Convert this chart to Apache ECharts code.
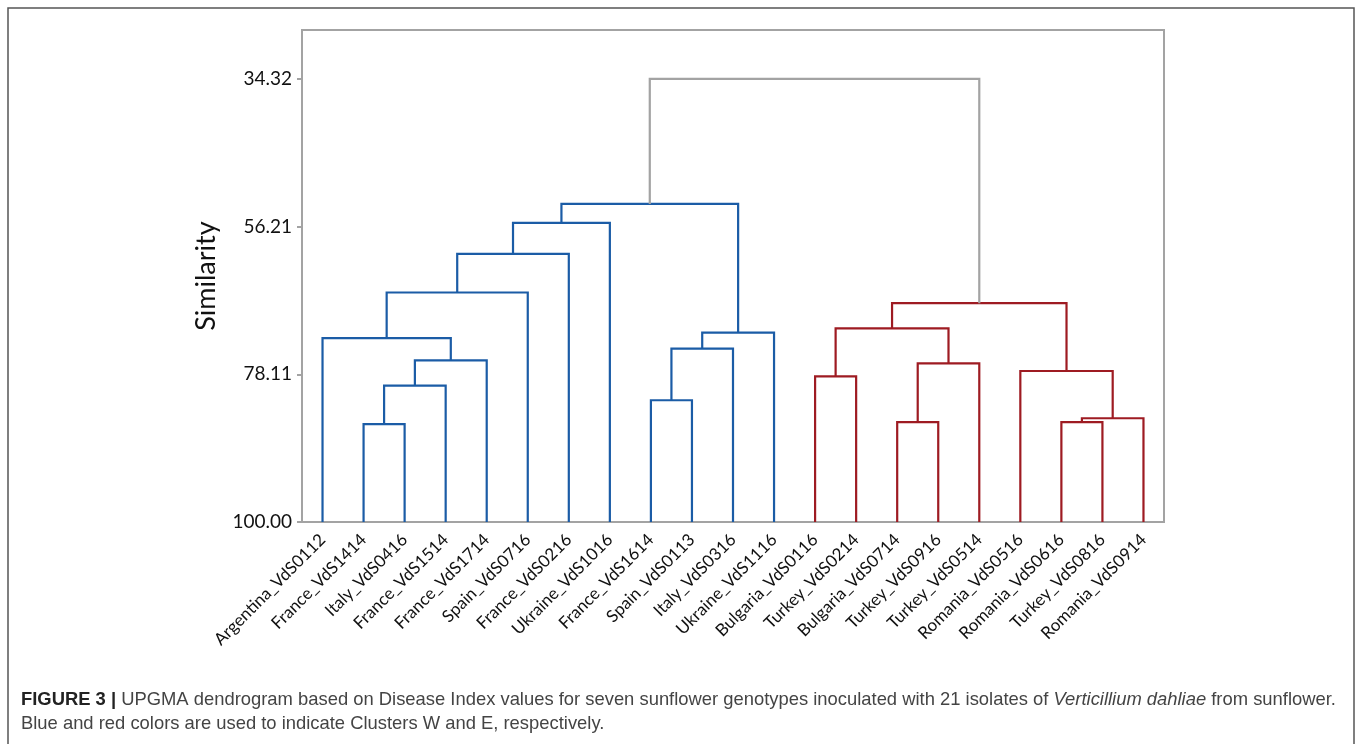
<!DOCTYPE html>
<html>
<head>
<meta charset="utf-8">
<script src="https://cdn.jsdelivr.net/npm/echarts@6/dist/echarts.min.js"></script>
<style>
html,body{margin:0;padding:0;background:#fff;}
#chart{width:1360px;height:744px;}
</style>
</head>
<body>
<div id="chart"></div>
<script>
// Leaves (isolates), left to right
const leaves = [
  'Argentina_VdS0112','France_VdS1414','Italy_VdS0416','France_VdS1514','France_VdS1714',
  'Spain_VdS0716','France_VdS0216','Ukraine_VdS1016','France_VdS1614','Spain_VdS0113',
  'Italy_VdS0316','Ukraine_VdS1116','Bulgaria_VdS0116','Turkey_VdS0214','Bulgaria_VdS0714',
  'Turkey_VdS0916','Turkey_VdS0514','Romania_VdS0516','Romania_VdS0616','Turkey_VdS0816',
  'Romania_VdS0914'
];
// Merge steps: node ids 0..20 are leaves, merge k creates node 21+k
const mergeLeft   = [1, 21, 22, 0, 24, 25, 26, 8, 28, 29, 27, 12, 14, 33, 32, 18, 36, 17, 35, 31];
const mergeRight  = [2, 3, 4, 23, 5, 6, 7, 9, 10, 11, 30, 13, 15, 16, 34, 19, 20, 37, 38, 39];
const mergeSim    = [85.5, 79.78, 76.04, 72.74, 65.98, 60.25, 55.67, 81.95, 74.31, 71.94, 52.85,
                     78.40, 85.21, 76.48, 71.30, 85.21, 84.62, 77.62, 67.56, 34.32];
const mergeGroup  = ['W','W','W','W','W','W','W','W','W','W','W','E','E','E','E','E','E','E','E','root'];
const yTickLabels = ['34.32', '56.21', '78.11', '100.00'];

const groupColor = { W: '#1b5ca6', E: '#9e1b22', root: '#a3a3a3' };

// node positions (x = leaf index / midpoint of children, y = similarity)
const nodeX = leaves.map((_, i) => i);
const nodeY = leaves.map(() => 100);
const segData = [];
for (let k = 0; k < mergeLeft.length; k++) {
  const a = mergeLeft[k], b = mergeRight[k];
  nodeX.push((nodeX[a] + nodeX[b]) / 2);
  nodeY.push(mergeSim[k]);
  segData.push([nodeX[a], nodeY[a], nodeX[b], nodeY[b], mergeSim[k], k]);
}

const chart = echarts.init(document.getElementById('chart'));
const grey = '#a3a3a3';
chart.setOption({
  animation: false,
  backgroundColor: '#fff',
  grid: { left: 302, right: 196, top: 30, bottom: 222, show: true, borderColor: grey, borderWidth: 2, containLabel: false },
  xAxis: [
    {
      type: 'category', data: leaves, boundaryGap: true,
      axisLine: { onZero: false, lineStyle: { color: grey, width: 2 } },
      axisTick: { alignWithLabel: true, length: 6, lineStyle: { color: grey, width: 2 } },
      axisLabel: { rotate: 45, margin: 15, color: '#111', fontFamily: 'Lato', fontSize: 17, interval: 0 },
      splitLine: { show: false }
    },
    { type: 'value', min: -0.5, max: leaves.length - 0.5, show: false }
  ],
  yAxis: {
    type: 'value', inverse: true, min: 27.07, max: 100,
    name: 'Similarity', nameLocation: 'middle', nameGap: 82, nameRotate: 90,
    nameTextStyle: { fontFamily: 'Lato', fontSize: 27, color: '#111' },
    axisLine: { show: true, onZero: false, lineStyle: { color: grey, width: 2 } },
    axisTick: { show: true, length: 5, customValues: yTickLabels.map(Number), lineStyle: { color: grey, width: 2 } },
    axisLabel: { customValues: yTickLabels.map(Number), formatter: v => Number(v).toFixed(2), margin: 10, color: '#111', fontFamily: 'Lato', fontSize: 19 },
    splitLine: { show: false }
  },
  series: [{
    type: 'custom',
    xAxisIndex: 1, yAxisIndex: 0,
    data: segData,
    renderItem: function (params, api) {
      const x1 = api.value(0), y1 = api.value(1), x2 = api.value(2), y2 = api.value(3), ym = api.value(4);
      const k = api.value(5);
      const pts = [api.coord([x1, y1]), api.coord([x1, ym]), api.coord([x2, ym]), api.coord([x2, y2])];
      return {
        type: 'polyline',
        shape: { points: pts },
        style: { stroke: groupColor[mergeGroup[k]], lineWidth: 2.2, fill: null, lineJoin: 'miter' }
      };
    },
    z: 5
  }],
  graphic: [
    { type: 'rect', shape: { x: 8, y: 8, width: 1346, height: 760 }, style: { fill: null, stroke: '#555', lineWidth: 1.5 }, silent: true },
    {
      type: 'text', left: 21, top: 691,
      style: {
        text: '{b|FIGURE 3 |}{n| UPGMA dendrogram based on Disease Index values for seven sunflower genotypes inoculated with 21 isolates of }{i|Verticillium dahliae}{n| from sunflower.}\n{n|Blue and red colors are used to indicate Clusters W and E, respectively.}',
        rich: {
          b: { fontFamily: 'Liberation Sans', fontWeight: 'bold', fontSize: 18.4, fill: '#222', lineHeight: 24 },
          n: { fontFamily: 'Liberation Sans', fontSize: 18.4, fill: '#444', lineHeight: 24 },
          i: { fontFamily: 'Liberation Sans', fontStyle: 'italic', fontSize: 18.4, fill: '#444', lineHeight: 24 }
        }
      }
    }
  ]
});
</script>
</body>
</html>
